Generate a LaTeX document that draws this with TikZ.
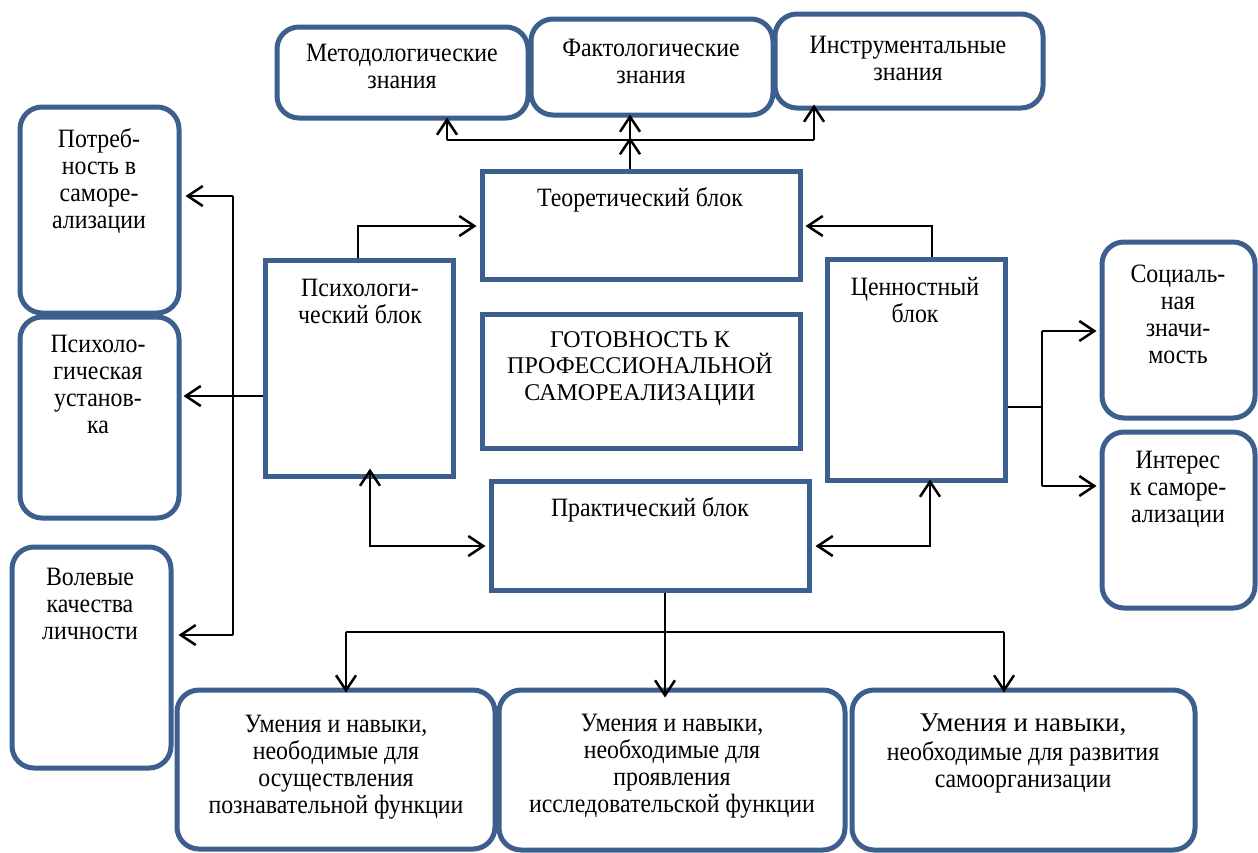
\documentclass[tikz,border=0pt]{standalone}
\usepackage{fontspec}
\setmainfont{Liberation Serif}
\newfontfamily\tallfont{Liberation Serif}[FakeStretch=0.9]
\usetikzlibrary{arrows.meta,fit}
\definecolor{bl}{RGB}{61,95,142}
\newcommand\fl{\rule{0pt}{20pt}}
\tikzset{
  rbox/.style={draw=bl, line width=5pt, rounded corners=22pt, fill=white, inner sep=0pt},
  sbox/.style={draw=bl, line width=5pt, fill=white, inner sep=0pt},
  txt/.style={align=center, anchor=north, inner sep=0pt, font=\tallfont\fontsize{26.5}{27}\selectfont},
  ntxt/.style={align=center, anchor=north, inner sep=0pt, font=\fontsize{24}{26.5}\selectfont},
  conn/.style={draw=black, line width=2.5pt},
  arr/.style={conn, -{Straight Barb[length=15pt,width=20pt]}},
  barr/.style={conn, {Straight Barb[length=15pt,width=20pt]}-{Straight Barb[length=15pt,width=20pt]}}
}
\begin{document}
\begin{tikzpicture}[x=1pt,y=-1pt]
\fill[white] (0,0) rectangle (1258,852);
\useasboundingbox (0,0) rectangle (1258,852);

% rounded boxes
\node[rbox, fit={(277,27)(528,118)}] (met) {};
\node[rbox, fit={(531,19)(773,115)}] (fakt) {};
\node[rbox, fit={(775,14)(1043,108)}] (instr) {};
\node[rbox, fit={(20,107)(179,313)}] (potr) {};
\node[rbox, fit={(20,317)(179,518)}] (ust) {};
\node[rbox, fit={(12,547)(171,768)}] (vol) {};
\node[rbox, fit={(1102,242)(1255,418)}] (soc) {};
\node[rbox, fit={(1102,432)(1255,608)}] (intr) {};
\node[rbox, fit={(177,690)(495,849)}] (u1) {};
\node[rbox, fit={(499,690)(845,850)}] (u2) {};
\node[rbox, fit={(852,690)(1195,850)}] (u3) {};

% square boxes
\node[sbox, fit={(482,171)(800,279)}] (theor) {};
\node[sbox, fit={(265,260)(453,476)}] (psych) {};
\node[sbox, fit={(482,314)(800,448)}] (got) {};
\node[sbox, fit={(827,259)(1005,480)}] (cenn) {};
\node[sbox, fit={(491,481)(809,590)}] (prak) {};

% texts
\node[txt] (metT) at (402,41) {\fl Методологические\\знания};
\node[txt] (faktT) at (651,36) {\fl Фактологические\\знания};
\node[txt] (instrT) at (908,33) {\fl Инструментальные\\знания};
\node[txt] (theorT) at (640,186) {\fl Теоретический блок};
\node[txt] (psychT) at (360,276) {\fl Психологи-\\ческий блок};
\node[txt] (cennT) at (915,275) {\fl Ценностный\\блок};
\node[ntxt] (gotT) at (640,327) {\fl ГОТОВНОСТЬ К\\ПРОФЕССИОНАЛЬНОЙ\\САМОРЕАЛИЗАЦИИ};
\node[txt] (prakT) at (650,496) {\fl Практический блок};
\node[txt] (potrT) at (99,127) {\fl Потреб-\\ность в\\саморе-\\ализации};
\node[txt] (ustT) at (98,332) {\fl Психоло-\\гическая\\установ-\\ка};
\node[txt] (volT) at (90,565) {\fl Волевые\\качества\\личности};
\node[txt] (socT) at (1178,262) {\fl Социаль-\\ная\\значи-\\мость};
\node[txt] (intrT) at (1178,448) {\fl Интерес\\к саморе-\\ализации};
\node[txt] (u1T) at (336,712) {\fl Умения и навыки,\\неободимые для\\осуществления\\познавательной функции};
\node[txt] (u2T) at (672,711) {\fl Умения и навыки,\\необходимые для\\проявления\\исследовательской функции};
\node[ntxt, font=\fontsize{27}{28}\selectfont] (u3Ta) at (1023,711) {\fl Умения и навыки,};
\node[txt] (u3Tb) at (1023,740) {\fl необходимые для развития\\самоорганизации};

% top connectors
\coordinate (hub) at (630,140);
\coordinate (hubL) at (447,140);
\coordinate (hubR) at (814,140);
\draw[arr] (theor.north -| hub) -- ([yshift=3pt]hub);
\draw[conn] (hubL) -- (hubR);
\draw[arr] (hubL) -- ([yshift=3pt]hubL |- met.south);
\draw[arr] (hub) -- ([yshift=3pt]hub |- fakt.south);
\draw[arr] (hubR) -- ([yshift=6pt]hubR |- instr.south);

% psych -> theor, cenn -> theor
\coordinate (pt) at (358,226);
\draw[arr] (pt |- psych.north) -- (pt) -- ([xshift=-3pt]theor.west |- pt);
\coordinate (ct) at (932,226);
\draw[arr] (ct |- cenn.north) -- (ct) -- ([xshift=3pt]theor.east |- ct);

% left tree
\coordinate (lv) at (233,396);
\coordinate (lvT) at (233,196);
\coordinate (lvB) at (233,635);
\draw[arr] (psych.west |- lv) -- ([xshift=2pt]ust.east |- lv);
\draw[conn] (lvT) -- (lvB);
\draw[arr] (lvT) -- ([xshift=4pt]potr.east |- lvT);
\draw[arr] (lvB) -- ([xshift=5pt]vol.east |- lvB);

% psych <-> prak, cenn <-> prak
\coordinate (pp) at (370,546);
\draw[barr] ([yshift=10pt]pp |- psych.south) -- (pp) -- ([xshift=-3pt]prak.west |- pp);
\coordinate (cp) at (930,546);
\draw[barr] ([yshift=3pt]cp |- cenn.south) -- (cp) -- ([xshift=4pt]prak.east |- cp);

% cenn -> right
\coordinate (rv) at (1042,407);
\coordinate (rvT) at (1042,331);
\coordinate (rvB) at (1042,486);
\draw[conn] (cenn.east |- rv) -- (rv);
\draw[conn] (rvT) -- (rvB);
\draw[arr] (rvT) -- ([xshift=-3pt]soc.west |- rvT);
\draw[arr] (rvB) -- ([xshift=-3pt]intr.west |- rvB);

% prak -> bottom
\coordinate (bm) at (665,632);
\coordinate (bL) at (346,632);
\coordinate (bR) at (1004,632);
\draw[conn] (bL) -- (bR);
\draw[arr] (bm |- prak.south) -- ([yshift=-10pt]bm |- u2.north);
\draw[arr] (bL) -- ([yshift=-5pt]bL |- u1.north);
\draw[arr] (bR) -- ([yshift=-5pt]bR |- u3.north);
\end{tikzpicture}
\end{document}
